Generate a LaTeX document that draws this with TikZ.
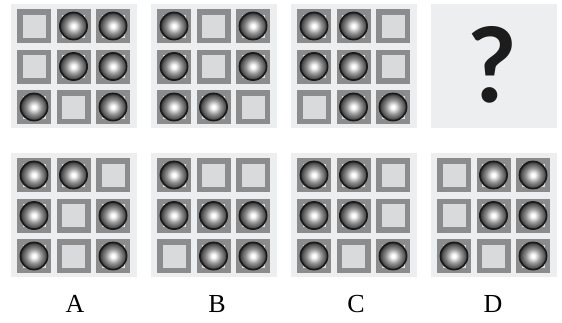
\documentclass[tikz,border=0pt]{standalone}
\usepackage{fontspec}
\setmainfont{Liberation Serif}
\newfontfamily\qfont{Lato}
\usetikzlibrary{calc}

\definecolor{panelbg}{HTML}{ECEEF0}
\definecolor{cellframe}{HTML}{8C8C8C}
\definecolor{cellfill}{HTML}{D8DADC}
\definecolor{qmark}{HTML}{1C1C1C}

% sphere: white centre, grey body, dark edge
\pgfdeclareradialshading{sphereshade}{\pgfpoint{0bp}{0bp}}{%
  color(0bp)=(white); color(3bp)=(white); color(13bp)=(black!42);
  color(21bp)=(black!68); color(25bp)=(black!85); color(50bp)=(black!85)}

\tikzset{
  panel/.style={fill=panelbg},
  frame/.style={fill=cellframe},
  inner/.style={fill=cellfill},
  sphere/.style={shading=sphereshade},
  rim/.style={draw=black!90, line width=1.6pt},
  letter/.style={anchor=base, font=\fontsize{26}{26}\selectfont},
}

% one 3x3 board: #1,#2 = top-left corner, #3 = nine 0/1 entries, row by row
\newcommand\boardpanel[3]{%
  \fill[panel] (#1,#2) rectangle ++(126,124);
  \foreach \b [count=\i from 0] in {#3} {
    \pgfmathtruncatemacro\cc{mod(\i,3)}
    \pgfmathtruncatemacro\rr{div(\i,3)}
    \coordinate (m) at ({#1+6+\cc*39.5+17},{#2+5+\rr*40.5+17});
    \fill[frame] ($(m)+(-17,-17)$) rectangle ($(m)+(17,17)$);
    \fill[inner] ($(m)+(-11.5,-11.5)$) rectangle ($(m)+(11.5,11.5)$);
    \ifnum\b=1
      \shade[sphere] (m) circle (14pt);
      \draw[rim] (m) circle (13.6pt);
    \fi
  }%
}

\begin{document}
\begin{tikzpicture}[x=1pt,y=-1pt]
  \useasboundingbox (0,0) rectangle (562,322);
  \fill[white] (0,0) rectangle (562,322);

  % question row
  \boardpanel{11}{4}{0,1,1, 0,1,1, 1,0,1}
  \boardpanel{151}{4}{1,0,1, 1,0,1, 1,1,0}
  \boardpanel{291}{4}{1,1,0, 1,1,0, 0,1,1}
  \fill[panel] (431,4) rectangle ++(126,124);
  \node[anchor=base, text=qmark,
        font=\qfont\bfseries\fontsize{104}{104}\selectfont] (q) at (492,102) {?};

  % answer row
  \boardpanel{11}{153}{1,1,0, 1,0,1, 1,0,1}
  \boardpanel{151}{153}{1,0,0, 1,1,1, 0,1,1}
  \boardpanel{291}{153}{1,1,0, 1,1,0, 1,0,1}
  \boardpanel{431}{153}{0,1,1, 0,1,1, 1,0,1}

  \node[letter] (la) at (75,312) {A};
  \node[letter] (lb) at (217,312) {B};
  \node[letter] (lc) at (356,312) {C};
  \node[letter] (ld) at (493,312) {D};
\end{tikzpicture}
\end{document}
